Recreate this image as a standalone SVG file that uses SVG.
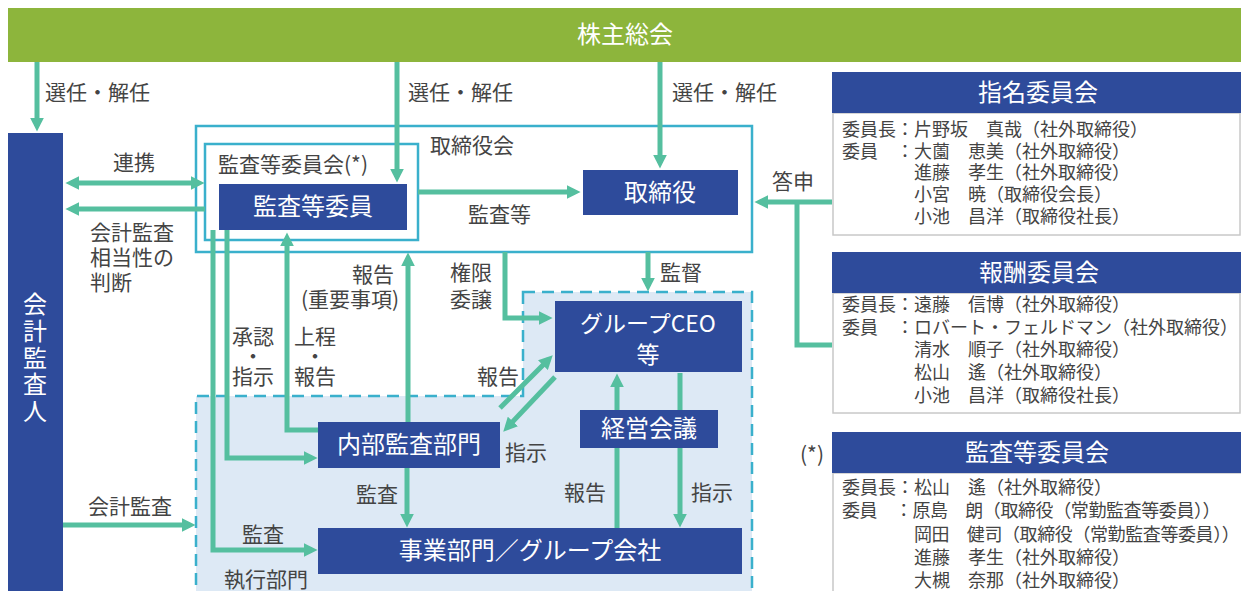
<svg xmlns="http://www.w3.org/2000/svg" width="1241" height="591" viewBox="0 0 1241 591">
<style>
text{font-family:"Noto Sans CJK JP","Noto Sans",sans-serif}
.node{fill:#2e4b9b}
.nt{fill:#fff;font-size:24px;text-anchor:middle}
.lbl{fill:#444;font-size:21px}
.mid{text-anchor:middle}
.conn{stroke:#55bf9f;stroke-width:5;fill:none}
.frame{fill:none;stroke:#3ab0cc;stroke-width:2.5}
.body{fill:#fff;stroke:#c8c8c8;stroke-width:1.5}
.bt{fill:#444;font-size:18px}
.ht{fill:#fff;font-size:24px;text-anchor:middle}
</style>
<defs>
<marker id="ah" viewBox="0 0 10 10" refX="6" refY="5" markerWidth="14" markerHeight="14" markerUnits="userSpaceOnUse" orient="auto-start-reverse">
<path d="M0,0 L10,5 L0,10 z" fill="#55bf9f"/>
</marker>
</defs>
<rect width="1241" height="591" fill="#fff"/>

<g id="exec-area">
<path d="M523,292 H752 V597 H196 V396 H523 Z" fill="#dde9f5" stroke="#3ab0cc" stroke-width="2.5" stroke-dasharray="12 7"/>
<text class="lbl mid" x="266" y="587">執行部門</text>
</g>

<g id="board-frame">
<rect class="frame" x="196" y="126" width="556" height="126"/>
<text class="lbl" x="430" y="153">取締役会</text>
</g>
<g id="audit-committee-frame">
<rect class="frame" x="205" y="144" width="213" height="96"/>
<text class="lbl" x="218" y="172">監査等委員会(*)</text>
</g>

<g id="connectors">
<path class="conn" d="M37,62 V126" marker-end="url(#ah)"/>
<path class="conn" d="M397,62 V177" marker-end="url(#ah)"/>
<path class="conn" d="M660,62 V163" marker-end="url(#ah)"/>
<path class="conn" d="M71,183 H199" marker-start="url(#ah)" marker-end="url(#ah)"/>
<path class="conn" d="M205,209 H71" marker-end="url(#ah)"/>
<path class="conn" d="M418,192 H575" marker-end="url(#ah)"/>
<path class="conn" d="M832,202 H760" marker-end="url(#ah)"/>
<path class="conn" d="M797,202 V345 H832"/>
<path class="conn" d="M648,252 V286" marker-end="url(#ah)"/>
<path class="conn" d="M505,252 V318 H547" marker-end="url(#ah)"/>
<path class="conn" d="M500,408 L548.8,359.2" marker-end="url(#ah)"/>
<path class="conn" d="M555,377 L507.1,427.6" marker-end="url(#ah)"/>
<path class="conn" d="M617,528 V379" marker-end="url(#ah)"/>
<path class="conn" d="M680,373 V522" marker-end="url(#ah)"/>
<path class="conn" d="M407,468 V522" marker-end="url(#ah)"/>
<path class="conn" d="M408,422 V258" marker-end="url(#ah)"/>
<path class="conn" d="M318,430 H287 V238" marker-end="url(#ah)"/>
<path class="conn" d="M227,230 V458 H312" marker-end="url(#ah)"/>
<path class="conn" d="M213,230 V550 H312" marker-end="url(#ah)"/>
<path class="conn" d="M63,525 H190" marker-end="url(#ah)"/>
</g>

<g id="labels">
<text class="lbl" x="45" y="100">選任・解任</text>
<text class="lbl" x="408" y="100">選任・解任</text>
<text class="lbl" x="672" y="100">選任・解任</text>
<text class="lbl" x="113" y="170">連携</text>
<text class="lbl"><tspan x="90" y="240">会計監査</tspan><tspan x="90" y="265">相当性の</tspan><tspan x="90" y="290">判断</tspan></text>
<text class="lbl" x="468" y="222">監査等</text>
<text class="lbl" x="772" y="189">答申</text>
<text class="lbl" x="660" y="280">監督</text>
<text class="lbl"><tspan x="450" y="280">権限</tspan><tspan x="450" y="307">委譲</tspan></text>
<text class="lbl mid"><tspan x="373" y="282">報告</tspan><tspan x="350" y="307">(重要事項)</tspan></text>
<text class="lbl mid"><tspan x="253" y="344">承認</tspan><tspan x="253" y="364">・</tspan><tspan x="253" y="384">指示</tspan></text>
<text class="lbl mid"><tspan x="315" y="344">上程</tspan><tspan x="315" y="364">・</tspan><tspan x="315" y="384">報告</tspan></text>
<text class="lbl mid" x="498" y="384">報告</text>
<text class="lbl mid" x="526" y="460">指示</text>
<text class="lbl mid" x="377" y="502">監査</text>
<text class="lbl mid" x="585" y="500">報告</text>
<text class="lbl mid" x="712" y="500">指示</text>
<text class="lbl mid" x="130" y="514">会計監査</text>
<text class="lbl mid" x="263" y="542">監査</text>
</g>

<g id="shareholders">
<rect x="8" y="8" width="1233" height="54" fill="#8db53c"/>
<text class="nt" x="625" y="43">株主総会</text>
</g>

<g id="auditor">
<rect class="node" x="8" y="133" width="55" height="460"/>
<text class="nt"><tspan x="35" y="313">会</tspan><tspan x="35" y="340">計</tspan><tspan x="35" y="367">監</tspan><tspan x="35" y="393">査</tspan><tspan x="35" y="420">人</tspan></text>
</g>

<g id="audit-members">
<rect class="node" x="219" y="184" width="188" height="46"/>
<text class="nt" x="313" y="215">監査等委員</text>
</g>

<g id="directors">
<rect class="node" x="583" y="170" width="155" height="45"/>
<text class="nt" x="660" y="201">取締役</text>
</g>

<g id="ceo">
<rect class="node" x="555" y="301" width="187" height="71"/>
<text class="nt" style="font-size:23px"><tspan x="648" y="332">グループCEO</tspan><tspan x="648" y="363">等</tspan></text>
</g>

<g id="mgmt-meeting">
<rect class="node" x="580" y="410" width="138" height="38"/>
<text class="nt" x="649" y="437">経営会議</text>
</g>

<g id="internal-audit">
<rect class="node" x="318" y="422" width="182" height="46"/>
<text class="nt" x="409" y="453">内部監査部門</text>
</g>

<g id="business">
<rect class="node" x="318" y="528" width="424" height="46"/>
<text class="nt" x="530" y="559">事業部門／グループ会社</text>
</g>

<g id="nomination">
<rect class="body" x="833" y="113" width="407" height="122"/>
<rect class="node" x="832" y="72" width="409" height="41"/>
<text class="ht" x="1038" y="101">指名委員会</text>
<text class="bt"><tspan x="842" y="136">委員長：片野坂　真哉（社外取締役）</tspan><tspan x="842" y="158">委員　：大薗　恵美（社外取締役）</tspan><tspan x="914" y="179">進藤　孝生（社外取締役）</tspan><tspan x="914" y="201">小宮　暁（取締役会長）</tspan><tspan x="914" y="223">小池　昌洋（取締役社長）</tspan></text>
</g>

<g id="compensation">
<rect class="body" x="833" y="293" width="407" height="120"/>
<rect class="node" x="832" y="252" width="409" height="41"/>
<text class="ht" x="1039" y="281">報酬委員会</text>
<text class="bt"><tspan x="842" y="311">委員長：遠藤　信博（社外取締役）</tspan><tspan x="842" y="334">委員　：ロバート・フェルドマン（社外取締役）</tspan><tspan x="914" y="356">清水　順子（社外取締役）</tspan><tspan x="914" y="379">松山　遙（社外取締役）</tspan><tspan x="914" y="402">小池　昌洋（取締役社長）</tspan></text>
</g>

<g id="audit-panel">
<text class="lbl mid" x="812" y="462">(*)</text>
<rect class="body" x="833" y="473" width="410" height="125"/>
<rect class="node" x="832" y="432" width="409" height="41"/>
<text class="ht" x="1037" y="461">監査等委員会</text>
<text class="bt"><tspan x="842" y="494">委員長：松山　遙（社外取締役）</tspan><tspan x="842" y="517" letter-spacing="-0.4">委員　：原島　朗（取締役（常勤監査等委員））</tspan><tspan x="914" y="541" letter-spacing="-0.4">岡田　健司（取締役（常勤監査等委員））</tspan><tspan x="914" y="564">進藤　孝生（社外取締役）</tspan><tspan x="914" y="587">大槻　奈那（社外取締役）</tspan></text>
</g>
</svg>
